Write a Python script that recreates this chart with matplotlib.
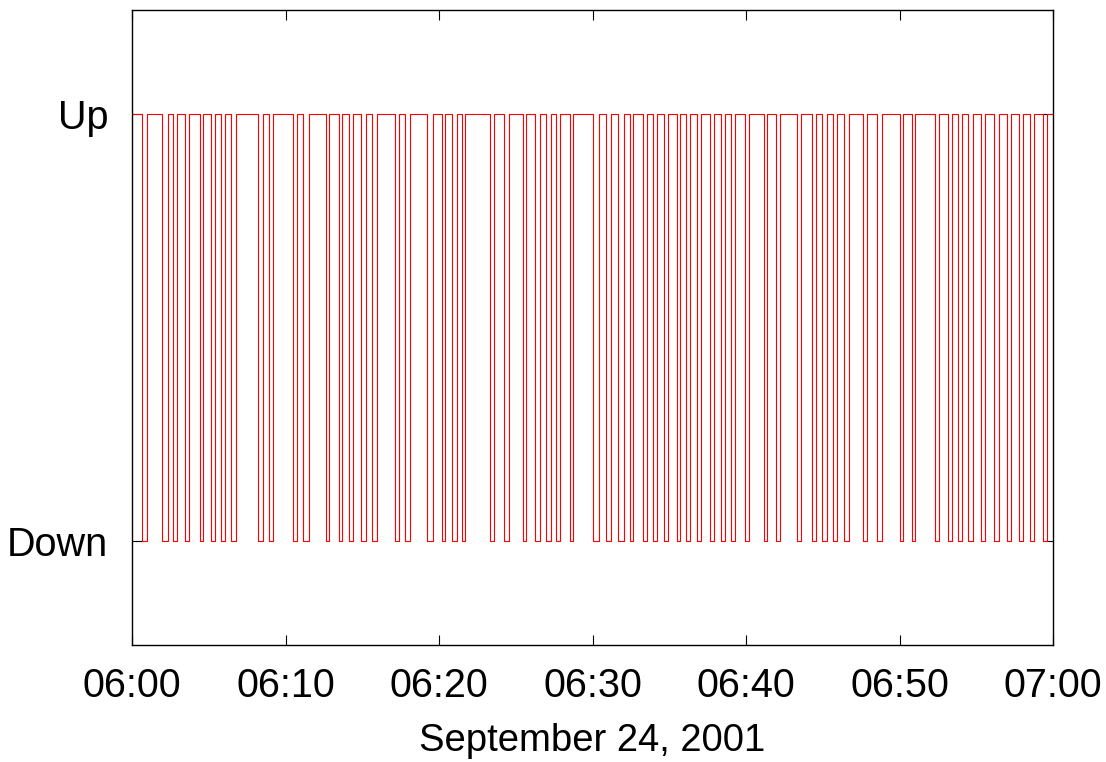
import matplotlib
matplotlib.use("Agg")
import matplotlib.pyplot as plt
import matplotlib.dates as mdates
from datetime import datetime, timedelta

# Seconds after 06:00:00 at which the link went down and came back up
down_start_sec = [38, 116, 159, 207, 266, 309, 348, 387, 493, 536,
                  628, 669, 757, 809, 848, 897, 940, 1027, 1069, 1155,
                  1210, 1249, 1288, 1398, 1453, 1528, 1577, 1620, 1659, 1711,
                  1802, 1854, 1900, 1948, 1997, 2036, 2078, 2130, 2167, 2208,
                  2260, 2301, 2342, 2397, 2469, 2516, 2600, 2657, 2698, 2739,
                  2785, 2859, 2913, 3000, 3048, 3140, 3188, 3227, 3269, 3319,
                  3371, 3419, 3469, 3512, 3560]
down_end_sec = [57, 139, 177, 223, 279, 324, 363, 406, 511, 552,
                643, 691, 771, 821, 864, 914, 956, 1043, 1086, 1177,
                1223, 1271, 1303, 1415, 1473, 1542, 1594, 1637, 1674, 1724,
                1824, 1874, 1922, 1958, 2014, 2052, 2095, 2143, 2182, 2225,
                2273, 2319, 2358, 2410, 2483, 2531, 2616, 2674, 2716, 2755,
                2802, 2874, 2931, 3013, 3062, 3153, 3204, 3243, 3286, 3334,
                3387, 3436, 3484, 3527, 3575]
state_labels = ["Down", "Up"]
xlabel_text = "September 24, 2001"
start_time = datetime(2001, 9, 24, 6, 0, 0)
end_time = datetime(2001, 9, 24, 7, 0, 0)

# Build step series
times = [start_time]
states = [1]
for s, e in zip(down_start_sec, down_end_sec):
    times.append(start_time + timedelta(seconds=s)); states.append(0)
    times.append(start_time + timedelta(seconds=e)); states.append(1)
times.append(end_time); states.append(1)

plt.rcParams['font.family'] = ['Liberation Sans', 'DejaVu Sans']

fig = plt.figure(figsize=(11.06, 7.62), dpi=100)
ax = fig.add_axes([132/1106, 1 - 645/762, (1053-132)/1106, (645-10)/762])

ax.step(times, states, where='post', color='#ff0000', linewidth=0.8)

ax.set_xlim(start_time, end_time)
ax.set_ylim(-0.245, 1.245)
ax.set_yticks([0, 1])
ax.set_yticklabels(state_labels)
ax.xaxis.set_major_locator(mdates.MinuteLocator(byminute=range(0, 60, 10)))
ax.xaxis.set_major_formatter(mdates.DateFormatter('%H:%M'))
ax.set_xlabel(xlabel_text, fontsize=27.5, labelpad=13)

ax.tick_params(axis='both', which='major', direction='in', length=7,
               width=0.8, labelsize=28.5, top=True, right=True, color='black')
ax.tick_params(axis='x', pad=16)
ax.tick_params(axis='y', pad=17)
for sp in ax.spines.values():
    sp.set_linewidth(1.0)
    sp.set_color('black')

fig.savefig('out.png', dpi=100)
